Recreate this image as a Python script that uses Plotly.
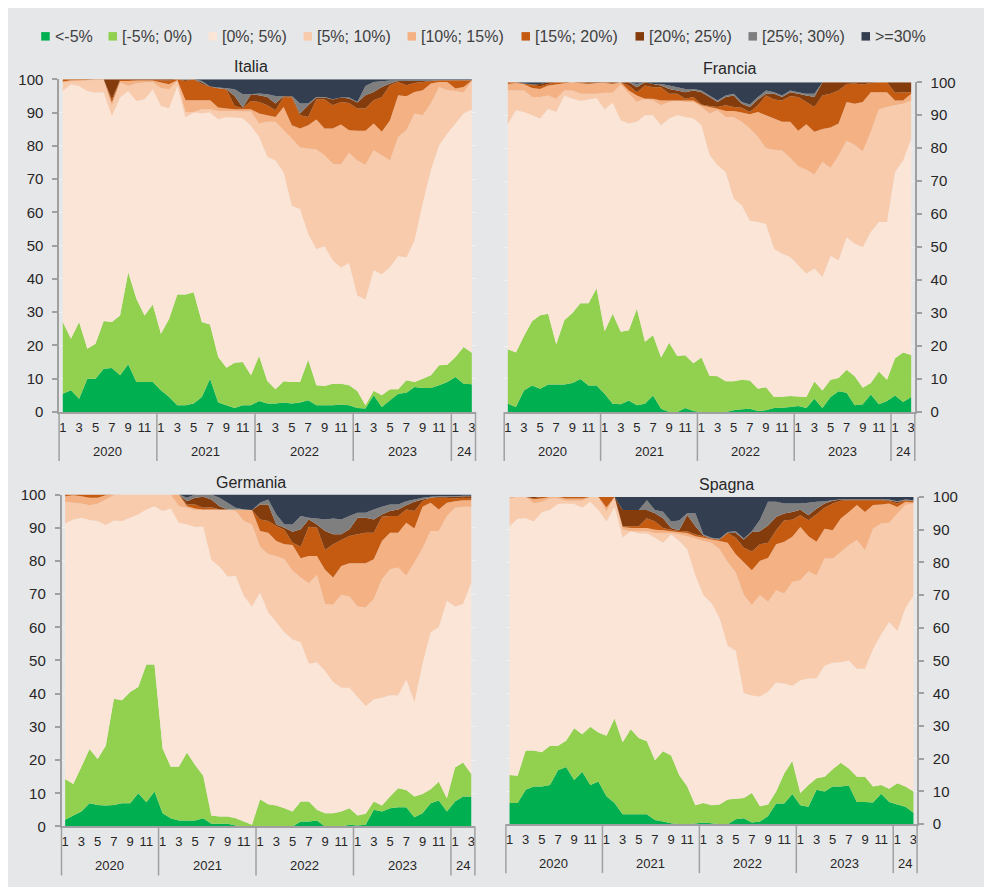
import plotly.graph_objects as go

W, H = 992, 887
# screen-position helpers (calibrated to the rendered page)
def fx(p): return (p - 8.5) / W
def fy(p): return 1 - ((p - 16.7) / 0.981) / H

# ---------------- data ----------------
years = [2020]*12 + [2021]*12 + [2022]*12 + [2023]*12 + [2024]*3
months = list(range(1, 13))*4 + [1, 2, 3]
year_text = {2020: '2020', 2021: '2021', 2022: '2022', 2023: '2023', 2024: '24'}

categories = ['<-5%', '[-5%; 0%)', '[0%; 5%)', '[5%; 10%)', '[10%; 15%)',
              '[15%; 20%)', '[20%; 25%)', '[25%; 30%)', '>=30%']
colors = ['#00b050', '#92d050', '#fbe5d6', '#f8cbad', '#f4b183',
          '#c55a11', '#843c0c', '#7f7f7f', '#333f50']

# cumulative shares (upper edge of each class, %)
ita_lt_m5 = [5.5,6.5,4,10,10,13,13.2,11,14.3,9,9,9, 6.5,4.5,2,2,2.5,4.5,10,2.8,2,1.2,2,2,
             3.3,2.5,2.5,2.8,2.5,2.8,3.5,2,2,2,2.2,2, 1.2,1,5,1.5,3.5,5.5,5.8,7.5,7.2,7.2,8,9, 10.5,8.5,8.3]
ita_m5_0 = [27,22,27,19,20.5,27.3,27,29,42,34,29,32.3, 23.5,28,35.3,35.3,36,27,26.3,16.5,13.3,14.8,15,11,
            16.8,9.3,6.8,9.2,9,9,15.7,8,7.8,8.5,8.5,8, 6.3,2,6.4,5,6.8,6.8,9.5,9,10,11,14,14.2, 16.5,19.5,17.8]
ita_0_5 = [96.5,98.5,98,96.5,96,96,89,94.5,96.5,93.5,94,97, 92,91.3,98,88.6,90,89.8,90,88,88.6,88.5,88.3,86,
           82.7,76.7,75.6,72,62,61,53.6,49,49.8,45.6,43.4,44.8, 35,33.8,42.6,41.4,43.6,46.9,46.4,51.6,62.7,72.7,80.2,83.7,
           86.7,89.7,90.9]
ita_5_10 = [99,99.3,99.5,99.6,99.8,99.8,92,99,98,98.8,99,99.2, 97.3,97,99.5,90.2,90.2,91,91,90.5,90.5,90.5,90.3,90.3,
            86.7,87.2,87.2,84.7,82.2,79.5,79.2,78.9,77.2,74.6,74.4,77.9, 75.6,74.3,78.7,77.2,75.6,82.7,84.7,89.7,89.2,92.7,97.7,96.7,
            96.5,96,99.5]
ita_10_15 = [99.3,99.7,99.8,99.8,99.9,99.9,93,99.5,99.5,99.6,99.6,99.6, 99,98.5,99.8,93.7,93.7,93.7,93.7,91.5,91.2,91,91,91,
             89.7,89.2,88.7,91.7,86.2,85.2,86.2,87.9,85.2,85.2,86.4,84.7, 84.5,84.5,86.7,84.2,87.7,95.2,94.9,96.2,96.7,98.7,99.2,99.2,
             97.2,97.7,99.6]
ita_15_20 = [100,100,100,100,100,100,94,99.8,99.8,99.8,99.8,99.8, 99.7,99.6,100,99.5,100,98.5,97.8,97.3,97,92,91.3,93.5,
             93.2,92.2,90.7,94.7,94.5,89.2,88.7,93.9,93.9,92.2,93.2,92.9, 91.2,91.2,93.7,94.7,98.2,99.2,98.2,98.9,99.2,99.5,99.7,99.7,
             99.7,99.7,99.7]
ita_20_25 = [100,100,100,100,100,100,100,100,100,100,100,100, 100,100,100,99.8,100,99,97.8,97.3,97,95,91.5,95.5,
             95.2,94.7,92.7,94.9,94.9,89.7,92.2,94.5,94.5,93.9,94.5,94.2, 93,95.2,96.2,97.7,98.7,99.5,99.5,99.5,99.5,99.5,99.7,99.7,
             99.7,99.7,99.7]
ita_25_30 = [100,100,100,100,100,100,100,100,100,100,100,100, 100,100,100,100,100,99.5,97.8,97.5,97.3,97,95.5,95.5,
             95.7,95.5,95,95,95,92.7,92.7,94.7,94.7,94,94.5,94.5, 93.2,98,99.2,99.4,99.6,99.7,99.7,99.7,99.7,99.7,99.8,99.8,
             99.8,99.8,99.8]

fra_lt_m5 = [2.5,1.5,6.5,8,7,8.3,8.3,8.3,8.8,10,8,8, 5.5,2.5,2.3,3.5,2,2.5,5,1,0,0,1.2,0.3,
             0,0,0,0,0.5,0.8,1,0.3,0.5,1.2,1.3,1.5, 1.8,1.2,4,1.2,4.5,6.3,5.8,2,2.3,5.3,2.3,3.3, 5,3,4.5]
fra_m5_0 = [19,18,23,27.5,29.3,29.8,20.5,27.8,30,33,33,37.5, 24.5,29.8,24.3,24.8,31.3,21.3,23.3,16.5,21,17,17.2,14.8,
            16.5,11,10.8,9.3,9.3,9.8,9.5,7,7.5,4.5,4.6,4.8, 4.7,4.5,9.2,6.5,9.8,10.3,12.8,10.8,7.3,8.8,12.3,9.8, 16.3,18,17.3]
fra_0_5 = [87.3,91.5,91,90,89,92,91,96,95,94.3,94.8,95.2, 91.8,93.8,88.5,87.5,88,90,90,87,89,90,89.5,89,
           87,78,74.8,72.8,64.7,62.7,58,57.6,57,49.5,48,47, 44.5,42,43.5,41,47.3,46,53,51,50,54.6,57.6,57.6, 72.8,76.3,82.9]
fra_5_10 = [97.5,97.5,97.5,95.5,95.5,96,95,97.5,97.5,96.5,96.5,96.5, 96.8,96.8,99.3,96.5,94,95,94.5,93,94,94.3,94,94,
            92.5,90.5,91.5,89.5,89.5,88,86,83.5,80,79.5,79.3,77, 74.5,73.5,72,75.8,74,77.8,82.3,81,79,85,91.8,92.5, 93,93.5,94.5]
fra_10_15 = [99.5,99.8,99.5,98.3,98,99,99.3,99.7,100,99.7,99.5,99.8, 99.8,99.5,100,97.5,96,95,95,94.5,94.5,94.5,94.5,94.5,
             93,92.5,92,91.3,91.3,90.8,90.3,91,90,89,88,88, 85.3,87.3,85,85.8,86.3,87.5,94,93.5,94,97,97,97, 94.5,94.5,96.5]
fra_15_20 = [100,100,99.6,99.2,98.8,99.5,100,100,100,100,99.7,99.8, 100,99.7,100,99,97,99,98.5,98.5,96.5,96.5,95,95.5,
             93.3,92.8,92.5,93,92.5,92.3,91,93,96,94.8,94.5,95.8, 95.5,94,92.5,96,96.5,97.5,99.5,99.6,99.3,99.8,100,100, 96.8,97,97]
fra_20_25 = [100,100,99.6,99.3,99.5,100,100,100,100,100,100,100, 100,100,100,100,98.5,100,99.5,99,98,97.5,97,97.5,
             97,95.5,94,95.5,96,93.5,92.5,94.8,96.5,96.5,95.5,97, 96.5,96,95.5,100,100,100,100,100,100,100,100,100, 100,100,100]
fra_25_30 = [100,100,99.6,99.4,99.5,100,100,100,100,100,100,100, 100,100,100,100,99.5,100,99.5,99.5,99,98.5,98,98,
             97.5,96,94.5,96,96.5,94,93.3,95.5,97.5,97,96,97.5, 97,96.5,96.5,100,100,100,100,100,100,100,100,100, 100,100,100]

deu_lt_m5 = [2,3.3,4.5,7,6.5,6.3,6.5,7,7,10,7.3,10.5, 4,2.5,1.8,1.8,1.8,2.5,0.8,0.8,0.8,0.3,0,0,
             0,0,0,0,0,1.5,1.5,1.8,0,0,0,0.5, 0.3,0.5,5,4.5,5.5,5.8,5.8,2.8,4,7,7.8,4.5, 7.5,9,9]
deu_m5_0 = [14.3,12.8,18,23.3,20.3,24.3,38.5,38,40.5,42,48.8,48.8, 23.5,18,18,22.3,18.5,15.3,3.3,3,3,2.5,1.5,0.5,
            8.2,6.7,6.3,5.5,4.5,7.5,7.5,5,4,4,4.5,5.5, 3.3,3.8,7.5,6.3,9,11.5,11,9,9.8,11.2,13.5,8.5, 17.8,19.3,15.8]
deu_0_5 = [91.3,92.5,93,92.3,92,90.8,92.2,92,93,94,95.5,96.5, 95,95.8,91.5,91,90.3,90.3,80.3,78.3,75.3,75.5,69.5,66.3,
           70.5,64.5,61.5,58.5,56.3,55.5,49,49.5,46.8,43.5,41.8,41.8, 39,36.3,38.3,38.8,39.5,39.5,44.3,37.5,49,58.5,60,68,
           66.3,67,73.5]
deu_5_10 = [97.8,97.5,97.3,96.8,97.2,98.5,99.8,100,100,100,100,100, 100,100,96.5,96,95.3,95.3,95.5,95.3,95.3,95,92,91,
            84.3,82,81.5,80.5,77,75,73.3,75.8,67,66.8,69.8,69.3, 66.3,66,68.5,74.5,77.5,78,75.5,79.5,83.8,89,89,93.5,
            96,96.3,96.3]
deu_10_15 = [99.5,99.8,99.5,99,99,99.8,100,100,100,100,100,100, 100,100,100,96.5,95.8,95.5,95.5,95.5,95.5,95.5,95.5,95.3,
             89,88.5,86,85,84.8,80.8,81.5,81.5,77.3,75,78.5,79.3, 79.3,79.3,80.5,86,88.5,88.5,91.5,89.8,96.3,97.5,95.5,97.5,
             98,98.3,98.3]
deu_15_20 = [100,100,100,100,100,100,100,100,100,100,100,100, 100,100,100,97,97,96,96.2,95.5,95.5,95.5,95.5,95.3,
             92.5,92,90.5,89.3,85.5,84.3,90.3,90,83.3,85,86.3,87.5, 88,88.5,88.5,93.3,93.5,93.5,95.5,95,98,99,99,99,
             98.8,99,98.8]
deu_20_25 = [100,100,100,100,100,100,100,100,100,100,100,100, 100,100,100,98,99,99.3,98.5,96.5,95.5,95.5,95.5,95.3,
             97,97,91,90,88.8,89.5,92.5,91,89,88,88,89.5, 93,93,92.5,94,95,95.5,96.8,97.8,98.5,99,99.3,99.3,
             99.3,99.5,99.5]
deu_25_30 = [100,100,100,100,100,100,100,100,100,100,100,100, 100,100,100,99,100,100,100,99,97.5,96,95.5,95.3,
             97.5,98.5,94,91,91,93.5,93,92.8,92.5,92.8,92.5,93.5, 94.5,94.5,95.5,96.3,97,97,98,98.5,99,99.3,99.5,99.5,
             99.5,99.6,99.6]

esp_lt_m5 = [6.5,6.5,10.5,11.5,11.5,12,16.5,17.5,13.5,16,12,13, 8.5,6.5,3,3,3,3,1.3,0.8,0.3,0,0,0.2,
             0.5,0.3,0,0,1.5,1.8,0.5,0.8,2.5,6.3,6.3,9.2, 5.8,5.3,10.5,10,11.5,11.5,11.8,6.8,6.8,6.6,9.3,6.8, 6,5.3,3.5]
esp_m5_0 = [15,14.8,22.5,22.5,22,24,24,25.5,29.3,27.5,29.8,28, 27,32.3,25,29,26.3,25.3,19.5,22.3,21,15,11.5,5.8,
            6.5,5.8,6,7.5,7.8,8,9.5,5.5,6,10,15.5,19.3, 9.5,12,14,14.5,16.8,18.8,17,14.5,14.5,11.5,12,10.8, 12.5,11.5,10]
esp_0_5 = [91,93.3,93.5,92.5,95.3,96,97.8,98,97.8,96.8,98.5,96, 92.5,97,87.5,89.5,88.8,88.8,87.5,86,88.5,86.5,84,76,
           70,67.5,63,54.5,53,40,39.3,39,40.5,43.3,43,42.3, 44,44.5,44.5,48.5,49.3,49.5,50,47.5,47.5,53.5,58,61.8,
           59,66,69.8]
esp_5_10 = [99.5,100,100,98,98.5,99.5,99.5,98.8,98.8,98.8,100,100, 95.5,100,90,89.5,89.5,89.5,89,89,89,88.6,88,87.3,
            86.5,86,84,80,77,70,67,70,68,71.5,70.5,74, 74.5,77.3,76,81.2,81.2,83.2,85.2,86.8,83.7,90.3,91.9,92.1,
            94.9,97.5,98]
esp_10_15 = [100,100,100,99.3,99.5,100,100,99.5,99.5,99.5,100,100, 96.8,100,90.8,90.5,90.5,90.5,90,89.8,89.5,89.2,89,88,
             87.5,87,86.5,86,82.5,80,77.6,80.5,81.3,85.5,86.3,87.8, 90.8,88,86.3,90.3,89.8,93.4,95.4,97.5,95.4,97.5,97.7,98,
             96.9,98.5,98.3]
esp_15_20 = [100,100,100,99.6,100,100,100,100,100,100,100,100, 100,100,91,91,91,93.5,92.5,90.5,90,89.6,89.5,88.5,
             88,87.2,87,89,87.5,84.5,83.3,85.5,86,89.8,92.9,93, 94.4,92.9,94.7,96.7,98,98.8,99,99,99,99,99,98.8,
             98,99,98.7]
esp_20_25 = [100,100,100,100,100,100,100,100,100,100,100,100, 100,100,96,96,96,96,95,93.5,90.5,89.8,94.5,91,
             88.2,87.3,87,89,89,87,89.3,89.5,91.3,93.9,94.9,95.4, 96.1,94.4,96.4,98,98.8,99.2,99.2,99.2,99.2,99.2,99.2,99,
             98.5,99,98.8]
esp_25_30 = [100,100,100,100,100,100,100,100,100,100,100,100, 100,100,96,96,96,99,96,95.5,92.5,92.8,95,95,
             88.5,87.5,87.2,89.3,89.5,87.3,89.5,93,98.5,98.5,98,98, 98,98.2,98.5,98.7,99,99.3,99.3,99.3,99.3,99.3,99.3,99.2,
             98.7,99.2,99]

total = [100]*len(months)

# ---------------- figure ----------------
FONT = 'Arial, "Liberation Sans", sans-serif'
BG = '#e6e7e9'
AXC = '#a0a0a0'
TXT = '#262626'

panels = [
    dict(name='Italia', cum=[ita_lt_m5, ita_m5_0, ita_0_5, ita_5_10, ita_10_15, ita_15_20, ita_20_25, ita_25_30, total],
         xd=(59.6, 476.0), yd=(79.0, 411.7), side='left', title=(251, 66)),
    dict(name='Francia', cum=[fra_lt_m5, fra_m5_0, fra_0_5, fra_5_10, fra_10_15, fra_15_20, fra_20_25, fra_25_30, total],
         xd=(504.7, 915.3), yd=(82.0, 411.7), side='right', title=(730, 68)),
    dict(name='Germania', cum=[deu_lt_m5, deu_m5_0, deu_0_5, deu_5_10, deu_10_15, deu_15_20, deu_20_25, deu_25_30, total],
         xd=(62.0, 475.4), yd=(494.3, 826.3), side='left', title=(251, 482)),
    dict(name='Spagna', cum=[esp_lt_m5, esp_m5_0, esp_0_5, esp_5_10, esp_10_15, esp_15_20, esp_20_25, esp_25_30, total],
         xd=(506.4, 917.6), yd=(496.7, 824.0), side='right', title=(727, 484)),
]

xidx = list(range(len(months)))
tickvals = [i for i in xidx if months[i] % 2 == 1]
ticktext = [str(months[i]) for i in tickvals]
year_list = sorted(set(years))

fig = go.Figure()
shapes, annotations = [], []

for p, pan in enumerate(panels):
    sfx = '' if p == 0 else str(p + 1)
    xa, ya = 'x' + sfx, 'y' + sfx
    for k, cat in enumerate(categories):
        fig.add_trace(go.Scatter(
            x=xidx, y=pan['cum'][k], xaxis=xa, yaxis=ya, name=cat,
            mode='none', fill='tozeroy' if k == 0 else 'tonexty',
            fillcolor=colors[k], showlegend=False, hoverinfo='skip'))

    fig.layout['xaxis' + sfx] = dict(
        domain=[fx(pan['xd'][0]), fx(pan['xd'][1])], anchor=ya,
        range=[-0.45, len(months) - 1 + 0.45], showgrid=False, zeroline=False,
        showline=True, linecolor=AXC, linewidth=2, ticks='',
        tickmode='array', tickvals=tickvals, ticktext=ticktext, tickangle=0,
        tickfont=dict(family=FONT, size=13, color=TXT), ticklabelstandoff=2)
    fig.layout['yaxis' + sfx] = dict(
        domain=[fy(pan['yd'][1]), fy(pan['yd'][0])], anchor=xa, side=pan['side'],
        range=[0, 100], tickmode='array', tickvals=list(range(0, 101, 10)),
        showgrid=True, gridcolor='#f2f2f2', gridwidth=1, zeroline=False,
        showline=True, linecolor=AXC, linewidth=1.5,
        ticks='outside', ticklen=5, tickwidth=1.5, tickcolor=AXC,
        tickfont=dict(family=FONT, size=15, color=TXT), ticklabelstandoff=6)

    # year group dividers and labels
    seg_h = -49.0 / (pan['yd'][1] - pan['yd'][0])
    for edge in (0, 1):
        shapes.append(dict(type='line', xref=xa + ' domain', yref=ya + ' domain',
                           x0=edge, x1=edge, y0=0, y1=seg_h, line=dict(color=AXC, width=1.5)))
    for yr in year_list:
        ids = [i for i in xidx if years[i] == yr]
        if yr != year_list[-1]:
            b = ids[-1] + 0.5
            shapes.append(dict(type='line', xref=xa, yref=ya + ' domain',
                               x0=b, x1=b, y0=0, y1=seg_h, line=dict(color=AXC, width=1.5)))
        annotations.append(dict(text=year_text[yr], xref=xa, yref=ya + ' domain',
                                x=sum(ids) / len(ids), y=0, yshift=-39.5, showarrow=False,
                                xanchor='center', yanchor='middle',
                                font=dict(family=FONT, size=13, color=TXT)))
    # panel title
    annotations.append(dict(text=pan['name'], xref='paper', yref='paper',
                            x=fx(pan['title'][0]), y=fy(pan['title'][1]), showarrow=False,
                            xanchor='center', yanchor='middle',
                            font=dict(family=FONT, size=16, color=TXT)))

# legend (custom, one row at top)
leg_x = [41.7, 109, 209, 304, 408, 522, 636, 749, 862]
for k, cat in enumerate(categories):
    x0 = leg_x[k]
    shapes.append(dict(type='rect', xref='paper', yref='paper',
                       x0=fx(x0), x1=fx(x0 + 8.5), y0=fy(40.3), y1=fy(31.8),
                       fillcolor=colors[k], line=dict(width=0)))
    annotations.append(dict(text=cat, xref='paper', yref='paper', x=fx(x0 + 11.5), y=fy(36),
                            showarrow=False, xanchor='left', yanchor='middle',
                            font=dict(family=FONT, size=16, color='#404040')))

fig.update_layout(width=W, height=H, margin=dict(l=0, r=0, t=0, b=0),
                  paper_bgcolor=BG, plot_bgcolor=BG, showlegend=False,
                  shapes=shapes, annotations=annotations,
                  font=dict(family=FONT, color=TXT))

fig.write_html('out.html')
